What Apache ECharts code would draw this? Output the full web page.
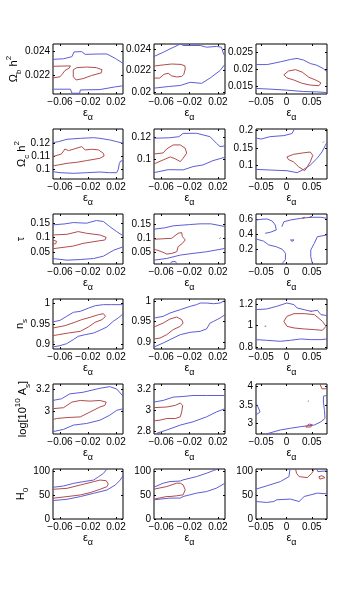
<!DOCTYPE html>
<html>
<head>
<meta charset="utf-8">
<script src="https://cdn.jsdelivr.net/npm/echarts@6/dist/echarts.min.js"></script>
<style>
html, body { margin: 0; padding: 0; background: #fff; }
#main { width: 361px; height: 596px; }
</style>
</head>
<body>
<div id="main"></div>
<script>
// tick values
var xTicksNarrow = [-0.06, -0.02, 0.02];
var xTicksWide = [-0.05, 0, 0.05];

var yTicksObh2 = [[0.022, 0.024], [0.02, 0.022, 0.024], [0.015, 0.02, 0.025]];
var yTicksOch2 = [[0.1, 0.11, 0.12], [0.1, 0.12], [0.1, 0.15, 0.2]];
var yTicksTau = [[0.05, 0.1, 0.15], [0.05, 0.1, 0.15], [0.2, 0.4, 0.6]];
var yTicksNs = [[0.9, 0.95, 1], [0.9, 0.95, 1], [0.8, 1, 1.2]];
var yTicksAs = [[3, 3.2], [2.8, 3, 3.2], [3, 3.5, 4]];
var yTicksH0 = [[0, 50, 100], [0, 50, 100], [0, 50, 100]];

// contours [eps_alpha, param], blue = outer, red = inner
// Omega_b h^2
var obh2BlueA = [
  [[-0.0705,0.02331],[-0.055,0.02336],[-0.043,0.02353],[-0.040,0.02392],[-0.029,0.02394],[-0.024,0.02372],[-0.003,0.02375],[0.007,0.02375],[0.019,0.02339],[0.0305,0.02297]],
  [[-0.0705,0.02089],[-0.045,0.02089],[-0.043,0.02056],[-0.032,0.02056],[-0.031,0.02083],[-0.003,0.02086],[0.019,0.02108],[0.0305,0.02117]]
];
var obh2RedA = [
  [[-0.0705,0.02275],[-0.045,0.02278],[-0.047,0.0226],[-0.053,0.0224],[-0.057,0.0221],[-0.060,0.0219],[-0.0705,0.0218]],
  [[-0.041,0.02247],[-0.036,0.02264],[-0.022,0.02269],[-0.008,0.02264],[0.000,0.02247],[0.002,0.02236],[-0.001,0.02222],[-0.015,0.0220],[-0.027,0.02175],[-0.037,0.02164],[-0.041,0.0219],[-0.041,0.02247]]
];
var obh2BlueB = [
  [[-0.07,0.02333],[-0.057,0.02372],[-0.0475,0.02404],[-0.036,0.0244],[-0.033,0.02452],[-0.029,0.02436],[-0.005,0.02436],[0.004,0.0242],[0.018,0.02427],[0.025,0.0242],[0.028,0.02356],[0.03,0.0234]],
  [[-0.07,0.02035],[-0.05,0.0205],[-0.033,0.0206],[-0.019,0.0209],[-0.003,0.0208],[0.009,0.0213],[0.023,0.022],[0.03,0.0226]]
];
var obh2RedB = [
  [[-0.07,0.02243],[-0.055,0.02255],[-0.045,0.02262],[-0.032,0.02258],[-0.0265,0.02245],[-0.026,0.02215],[-0.028,0.02165],[-0.031,0.02145],[-0.038,0.0214],[-0.045,0.0215],[-0.05,0.02175],[-0.056,0.02165],[-0.062,0.0213],[-0.07,0.0213]]
];
var obh2BlueC = [
  [[-0.06,0.02141],[-0.038,0.02141],[-0.012,0.02222],[0.008,0.02293],[0.021,0.02323],[0.034,0.02273],[0.047,0.02172],[0.06,0.02121],[0.073,0.0202],[0.08,0.01919]],
  [[-0.06,0.01434],[-0.032,0.01414],[0.001,0.01384],[0.034,0.01343],[0.06,0.01333],[0.08,0.01313]]
];
var obh2RedC = [
  [[-0.005,0.01838],[0.004,0.0195],[0.018,0.0199],[0.031,0.01919],[0.044,0.01768],[0.06,0.01667],[0.068,0.01596],[0.064,0.01515],[0.047,0.01535],[0.031,0.01586],[0.014,0.01687],[0.001,0.01747],[-0.005,0.01838]]
];

// Omega_c h^2
var och2BlueA = [
  [[-0.0705,0.1201],[-0.062,0.1209],[-0.05,0.1227],[-0.031,0.1234],[-0.012,0.1239],[-0.003,0.1234],[0.011,0.1222],[0.021,0.1209],[0.0305,0.1196]],
  [[-0.0705,0.0981],[-0.06,0.0973],[-0.041,0.0968],[-0.022,0.0973],[-0.003,0.0978],[0.011,0.0973],[0.021,0.0973],[0.0233,0.0999],[0.0248,0.1044],[0.0267,0.1062],[0.0305,0.1065]]
];
var och2RedA = [
  [[-0.0705,0.1095],[-0.058,0.1115],[-0.053,0.1153],[-0.048,0.1141],[-0.041,0.1151],[-0.029,0.1171],[-0.024,0.1146],[-0.015,0.1151],[-0.005,0.1146],[0.002,0.112],[0.003,0.11],[-0.003,0.1082],[-0.022,0.1065],[-0.036,0.1052],[-0.05,0.1044],[-0.062,0.1032],[-0.0705,0.1024]]
];
var och2BlueB = [
  [[-0.07,0.1191],[-0.048,0.1195],[-0.035,0.1205],[-0.029,0.1235],[-0.01,0.1236],[0.009,0.1205],[0.018,0.1145],[0.023,0.1115],[0.03,0.1121]],
  [[-0.07,0.0878],[-0.05,0.0905],[-0.029,0.0903],[-0.015,0.0933],[-0.001,0.0948],[0.013,0.0987],[0.03,0.1018]]
];
var och2RedB = [
  [[-0.07,0.1048],[-0.057,0.1057],[-0.052,0.1094],[-0.043,0.113],[-0.033,0.113],[-0.026,0.11],[-0.024,0.1055],[-0.029,0.1009],[-0.033,0.0978],[-0.04,0.1003],[-0.047,0.1021],[-0.057,0.0994],[-0.07,0.0957]]
];
var och2BlueC = [
  [[-0.06,0.179],[-0.05,0.176],[-0.032,0.183],[-0.005,0.186],[0.011,0.192],[0.016,0.206]],
  [[-0.06,0.0887],[-0.032,0.0868],[0.001,0.0849],[0.021,0.0792],[0.034,0.0887],[0.047,0.1009],[0.06,0.1198],[0.07,0.1387],[0.0767,0.1575],[0.08,0.167]]
];
var och2RedC = [
  [[0.001,0.1245],[0.014,0.1321],[0.031,0.1358],[0.047,0.1387],[0.052,0.1292],[0.047,0.1104],[0.041,0.0962],[0.036,0.0849],[0.024,0.0962],[0.014,0.1104],[0.004,0.117],[0.001,0.1245]],
  [[0.072,0.166],[0.074,0.169]]
];

// tau
var tauBlueA = [
  [[-0.0705,0.1432],[-0.053,0.1466],[-0.041,0.1511],[-0.022,0.1489],[-0.008,0.158],[0.002,0.1545],[0.011,0.1375],[0.021,0.1205],[0.0305,0.1057]],
  [[-0.0705,0.0295],[-0.05,0.0239],[-0.031,0.0261],[-0.012,0.0295],[0.002,0.0375],[0.017,0.058],[0.0305,0.0693]]
];
var tauRedA = [
  [[-0.0705,0.1091],[-0.05,0.1114],[-0.034,0.1205],[-0.022,0.1148],[-0.003,0.1091],[0.006,0.1011],[0.004,0.092],[-0.003,0.0898],[-0.027,0.0807],[-0.041,0.0716],[-0.06,0.0659],[-0.0705,0.0625]],
  [[-0.0705,0.092],[-0.065,0.088],[-0.066,0.08],[-0.0705,0.078]]
];
var tauBlueB = [
  [[-0.07,0.1318],[-0.055,0.1365],[-0.043,0.1435],[-0.02,0.148],[-0.005,0.1506],[0.01,0.1506],[0.03,0.1412]],
  [[-0.07,0.0235],[-0.052,0.0294],[-0.033,0.0412],[-0.015,0.0471],[0.004,0.0529],[0.023,0.0612],[0.03,0.0647]],
  [[-0.048,0.008],[-0.045,0.018],[-0.04,0.019],[-0.037,0.008]],
  [[0.0222,0.099],[0.0238,0.102]]
];
var tauRedB = [
  [[-0.07,0.0965],[-0.045,0.1],[-0.036,0.1176],[-0.031,0.12],[-0.03,0.1059],[-0.026,0.0941],[-0.03,0.0824],[-0.036,0.0706],[-0.038,0.0529],[-0.045,0.0471],[-0.052,0.0447],[-0.059,0.0529],[-0.066,0.0588],[-0.07,0.0612]]
];
var tauBlueC = [
  [[-0.06,0.594],[-0.048,0.605],[-0.038,0.608],[-0.028,0.58],[-0.022,0.527],[-0.02,0.46],[-0.032,0.429],[-0.042,0.416]],
  [[-0.06,0.34],[-0.045,0.31],[-0.035,0.26],[-0.02,0.235],[-0.008,0.2],[-0.002,0.147],[-0.002,0.06],[-0.008,0.012],[-0.012,0.0]],
  [[-0.009,0.504],[-0.005,0.571],[0.008,0.594],[0.028,0.617],[0.048,0.631],[0.068,0.631],[0.08,0.617]],
  [[0.08,0.393],[0.061,0.37],[0.055,0.281],[0.048,0.191],[0.048,0.101],[0.051,0.012],[0.052,0.0]],
  [[0.008,0.326],[0.011,0.345],[0.015,0.326],[0.011,0.307],[0.008,0.326]]
];
var tauRedC = [
  [[0.032,0.62],[0.036,0.63],[0.038,0.615],[0.032,0.62]],
  [[0.046,0.63],[0.05,0.64],[0.052,0.625],[0.046,0.63]]
];

// n_s
var nsBlueA = [
  [[-0.0705,0.9549],[-0.06,0.9589],[-0.0505,0.9687],[-0.041,0.9785],[-0.031,0.9809],[-0.019,0.989],[-0.0095,0.9947],[0.002,0.9972],[0.014,0.9972],[0.0305,0.9972]],
  [[-0.0705,0.8939],[-0.06,0.8972],[-0.0505,0.902],[-0.041,0.9118],[-0.034,0.9199],[-0.024,0.924],[-0.012,0.928],[-0.003,0.9346],[0.007,0.9427],[0.016,0.9565],[0.023,0.9646],[0.0305,0.9752]]
];
var nsRedA = [
  [[-0.0705,0.9402],[-0.053,0.9459],[-0.039,0.9541],[-0.029,0.9606],[-0.017,0.9663],[-0.005,0.9728],[0.002,0.9752],[0.005,0.9687],[0.0,0.9606],[-0.01,0.9541],[-0.0195,0.9427],[-0.031,0.9321],[-0.048,0.928],[-0.062,0.924],[-0.0705,0.9215]],
  [[-0.0705,0.908],[-0.068,0.906],[-0.0705,0.904]]
];
var nsBlueB = [
  [[-0.07,0.9581],[-0.057,0.9622],[-0.0475,0.9703],[-0.033,0.9785],[-0.019,0.9866],[-0.01,0.9907],[-0.005,0.9947],[0.004,0.9947],[0.014,0.9931],[0.023,0.9947],[0.03,1.0012]],
  [[-0.07,0.8874],[-0.057,0.8972],[-0.0475,0.9053],[-0.033,0.9175],[-0.019,0.9232],[-0.005,0.9256],[0.004,0.9313],[0.009,0.9459],[0.014,0.95],[0.023,0.9581],[0.03,0.9663]]
];
var nsRedB = [
  [[-0.07,0.9362],[-0.057,0.9459],[-0.0475,0.9557],[-0.038,0.9606],[-0.031,0.9541],[-0.029,0.9459],[-0.033,0.9378],[-0.043,0.9297],[-0.052,0.9175],[-0.0615,0.9093],[-0.07,0.9069]]
];
var nsBlueC = [
  [[-0.06,1.1466],[-0.039,1.1527],[-0.019,1.1771],[0.001,1.2076],[0.015,1.1924],[0.021,1.1618],[0.035,1.1466],[0.048,1.1313],[0.061,1.1405],[0.068,1.1008],[0.08,1.0916]],
  [[-0.06,0.8718],[-0.039,0.8656],[-0.012,0.8565],[0.008,0.8656],[0.028,0.8779],[0.048,0.8718],[0.068,0.8718],[0.08,0.8779]]
];
var nsRedC = [
  [[-0.005,1.0397],[0.001,1.0855],[0.015,1.1099],[0.035,1.1099],[0.055,1.1008],[0.071,1.0397],[0.078,0.9939],[0.071,0.9573],[0.055,0.9634],[0.035,0.9695],[0.015,0.9786],[0.001,0.9939],[-0.005,1.0397]],
  [[-0.043,0.994],[-0.04,0.996]],
  [[0.047,1.135],[0.05,1.13]]
];

// log[10^10 A_s]
var asBlueA = [
  [[-0.0705,3.0955],[-0.058,3.1104],[-0.046,3.1552],[-0.027,3.1701],[-0.003,3.206],[0.011,3.2209],[0.021,3.2],[0.0305,3.1313]],
  [[-0.0705,2.812],[-0.055,2.8328],[-0.041,2.8716],[-0.022,2.8866],[-0.003,2.9164],[0.011,2.9612],[0.021,3.006],[0.0305,3.0209]]
];
var asRedA = [
  [[-0.0705,3.0209],[-0.055,3.0299],[-0.043,3.0806],[-0.031,3.0955],[-0.017,3.0896],[-0.003,3.0955],[0.006,3.0806],[0.004,3.0507],[-0.003,3.0358],[-0.017,2.991],[-0.031,2.9463],[-0.05,2.9403],[-0.065,2.9313],[-0.0705,2.9224]]
];
var asBlueB = [
  [[-0.07,3.0769],[-0.057,3.0923],[-0.043,3.1231],[-0.029,3.1292],[-0.015,3.1385],[0.004,3.1385],[0.03,3.1385]],
  [[-0.0662,2.7846],[-0.052,2.8154],[-0.033,2.8615],[-0.015,2.8923],[0.004,2.9385],[0.018,2.9846],[0.03,3.0154]]
];
var asRedB = [
  [[-0.07,3.0246],[-0.052,3.0308],[-0.04,3.0462],[-0.038,3.0615],[-0.033,3.0677],[-0.0296,3.0462],[-0.031,2.9846],[-0.033,2.9385],[-0.04,2.9231],[-0.052,2.9231],[-0.0615,2.9077],[-0.07,2.9015]]
];
var asBlueC = [
  [[0.08,3.759],[0.073,3.74],[0.073,3.579],[0.075,3.357],[0.076,3.134],[0.068,3.043],[0.055,2.954],[0.028,2.909],[0.008,2.866],[-0.012,2.82],[-0.035,2.73],[-0.04,2.71]],
  [[-0.06,3.54],[-0.056,3.445],[-0.052,3.311],[-0.058,3.25],[-0.06,3.223]]
];
var asRedC = [
  [[0.066,4.07],[0.066,4.03],[0.07,3.94],[0.078,3.94],[0.08,3.98]],
  [[0.042,3.6],[0.044,3.61]],
  [[0.038,2.91],[0.045,2.98],[0.051,2.96],[0.048,2.9],[0.038,2.9]]
];

// H_0
var h0BlueA = [
  [[-0.0705,65.9],[-0.055,68.6],[-0.041,74.1],[-0.027,77.6],[-0.012,81],[-0.005,87.9],[0.002,94.8],[0.007,104]],
  [[-0.0705,38.3],[-0.05,41],[-0.031,46.6],[-0.012,53.4],[0.007,60.3],[0.019,70.7],[0.026,81],[0.0305,91.4]]
];
var h0RedA = [
  [[-0.0705,61.7],[-0.05,63.8],[-0.031,70.7],[-0.012,77.6],[-0.003,81],[0.006,79.7],[0.009,72.8],[0.007,67.2],[-0.003,61.7],[-0.017,54.8],[-0.031,50],[-0.05,46.6],[-0.0705,43.1]]
];
var h0BlueB = [
  [[-0.07,66.3],[-0.057,74.5],[-0.0475,77.8],[-0.033,79],[-0.029,81.4],[-0.01,88.2],[0.004,95.2],[0.0135,100.6],[0.02,104]],
  [[-0.07,40],[-0.0475,43.5],[-0.033,43.5],[-0.029,46.8],[-0.01,53.8],[0.004,57.1],[0.018,64.2],[0.03,74.5]]
];
var h0RedB = [
  [[-0.07,62.1],[-0.052,67.5],[-0.038,74.5],[-0.033,74.5],[-0.029,71],[-0.026,60.7],[-0.029,50.3],[-0.038,48.2],[-0.0475,46.8],[-0.052,46.8],[-0.07,41.4]]
];
var h0BlueC = [
  [[-0.06,62.1],[-0.039,68.9],[-0.012,77.8],[0.005,88.2],[0.007,104]],
  [[0.06,104],[0.062,98.5],[0.077,100],[0.08,100.6]],
  [[-0.06,36.4],[-0.039,34.4],[-0.025,36.4],[-0.019,40],[0.008,41.4],[0.025,36.4],[0.035,46.8],[0.061,53.8],[0.08,52.4]]
];
var h0RedC = [
  [[0.018,104],[0.02,95],[0.025,88.2],[0.041,86.1],[0.05,95],[0.055,104]],
  [[0.064,88],[0.07,90],[0.076,86],[0.074,82],[0.066,83],[0.064,88]]
];

var rowLabels = [
  '{m|Ω}{d|b}{m| h}{u|2}',
  '{m|Ω}{d|c}{m| h}{u|2}',
  '{m|τ}',
  '{m|n}{d|s}',
  '{m|log[10}{u|10}{m| A}{d|s}{m|]}',
  '{m|H}{d|0}'
];

var rows = [
  { ticks: yTicksObh2, lim: [[0.0205, 0.02456], [0.0198, 0.0245], [0.0127, 0.0275]],
    blue: [obh2BlueA, obh2BlueB, obh2BlueC], red: [obh2RedA, obh2RedB, obh2RedC] },
  { ticks: yTicksOch2, lim: [[0.0925, 0.1305], [0.082, 0.1275], [0.061, 0.205]],
    blue: [och2BlueA, och2BlueB, och2BlueC], red: [och2RedA, och2RedB, och2RedC] },
  { ticks: yTicksTau, lim: [[0.011, 0.18], [0.01, 0.185], [0.003, 0.675]],
    blue: [tauBlueA, tauBlueB, tauBlueC], red: [tauRedA, tauRedB, tauRedC] },
  { ticks: yTicksNs, lim: [[0.889, 1.011], [0.8825, 1.0045], [0.786, 1.244]],
    blue: [nsBlueA, nsBlueB, nsBlueC], red: [nsRedA, nsRedB, nsRedC] },
  { ticks: yTicksAs, lim: [[2.791, 3.245], [2.778, 3.246], [2.71, 4.07]],
    blue: [asBlueA, asBlueB, asBlueC], red: [asRedA, asRedB, asRedC] },
  { ticks: yTicksH0, lim: [[0, 104], [0, 104], [0, 104]],
    blue: [h0BlueA, h0BlueB, h0BlueC], red: [h0RedA, h0RedB, h0RedC] }
];

var fontFamily = "'Liberation Sans', Arial, sans-serif";
var blueColor = '#5d5dd6';
var redColor = '#b24c4c';

var xRanges = [[-0.07, 0.03], [-0.07, 0.03], [-0.06, 0.08]];
var colLeft = [53, 154, 256];
var colWidth = [70, 71, 71];
var rowTop = [44, 129, 214, 299, 384, 469];
var rowHeight = 50;
var labelX = [13.5, 22, 20.5, 20, 23, 20.5];

function fmt(v) {
  return String(v).replace('-', '\u2212');
}

function makeAxis(gridIndex, position, range, ticks, main) {
  return {
    gridIndex: gridIndex,
    type: 'value',
    position: position,
    min: range[0],
    max: range[1],
    axisLine: { show: false, onZero: false },
    splitLine: { show: false },
    axisTick: { show: true, inside: true, length: 2, customValues: ticks, lineStyle: { color: '#000', width: 1 } },
    axisLabel: { show: main, customValues: ticks, formatter: fmt, fontSize: 10, color: '#000', fontFamily: fontFamily, margin: 3 }
  };
}

var grids = [], xAxes = [], yAxes = [], series = [];

rows.forEach(function (row, r) {
  for (var c = 0; c < 3; c++) {
    var idx = r * 3 + c;
    var xt = c < 2 ? xTicksNarrow : xTicksWide;
    grids.push({
      left: colLeft[c], top: rowTop[r], width: colWidth[c], height: rowHeight,
      show: true, borderColor: '#000', borderWidth: 1
    });
    var xb = makeAxis(idx, 'bottom', xRanges[c], xt, true);
    xb.name = '{e|ε}{s|α}';
    xb.nameLocation = 'middle';
    xb.nameGap = 8;
    xb.nameTextStyle = {
      rich: {
        e: { fontSize: 11, lineHeight: 17, fontFamily: fontFamily, color: '#000' },
        s: { fontSize: 9, lineHeight: 9, verticalAlign: 'bottom', fontFamily: fontFamily, color: '#000' }
      }
    };
    xAxes.push(xb);
    xAxes.push(makeAxis(idx, 'top', xRanges[c], xt, false));
    yAxes.push(makeAxis(idx, 'left', row.lim[c], row.ticks[c], true));
    yAxes.push(makeAxis(idx, 'right', row.lim[c], row.ticks[c], false));

    [[row.blue[c], blueColor], [row.red[c], redColor]].forEach(function (set) {
      set[0].forEach(function (curve) {
        series.push({
          type: 'line',
          xAxisIndex: idx * 2,
          yAxisIndex: idx * 2,
          data: curve,
          symbol: 'none',
          smooth: false,
          clip: true,
          silent: true,
          lineStyle: { color: set[1], width: 1 }
        });
      });
    });
  }
});

var graphics = rowLabels.map(function (t, r) {
  return {
    type: 'text',
    x: labelX[r],
    y: rowTop[r] + rowHeight / 2,
    rotation: Math.PI / 2,
    style: {
      text: t,
      align: 'center',
      verticalAlign: 'middle',
      rich: {
        m: { fontSize: 11, lineHeight: 18, fontFamily: fontFamily, fill: '#000' },
        d: { fontSize: 8, lineHeight: 8, verticalAlign: 'bottom', fontFamily: fontFamily, fill: '#000' },
        u: { fontSize: 8, lineHeight: 8, verticalAlign: 'top', fontFamily: fontFamily, fill: '#000' }
      }
    }
  };
});

var chart = echarts.init(document.getElementById('main'), null, { renderer: 'canvas' });
chart.setOption({
  animation: false,
  backgroundColor: '#fff',
  grid: grids,
  xAxis: xAxes,
  yAxis: yAxes,
  series: series,
  graphic: graphics
});
</script>
</body>
</html>
